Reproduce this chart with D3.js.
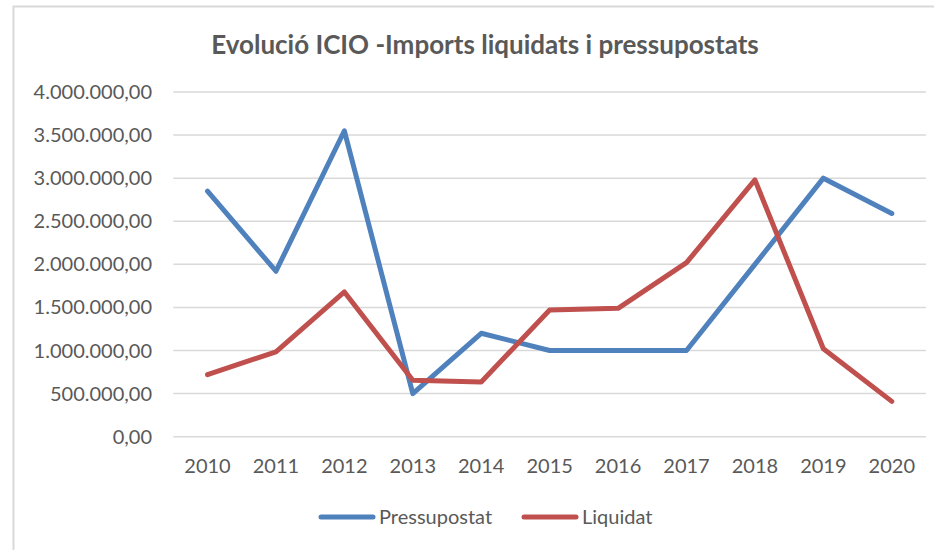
<!DOCTYPE html>
<html>
<head>
<meta charset="utf-8">
<script src="https://cdn.jsdelivr.net/npm/d3@7"></script>
<style>
  body { margin: 0; background: #fff; }
  svg { display: block; }
</style>
</head>
<body>
<svg width="934" height="550"></svg>
<script>
const years = ['2010', '2011', '2012', '2013', '2014', '2015', '2016', '2017', '2018', '2019', '2020'];
const pressupostat = [2850000, 1920000, 3550000, 500000, 1200000, 1000000, 1000000, 1000000, 2000000, 3000000, 2590000];
const liquidat = [720000, 985000, 1680000, 655000, 635000, 1470000, 1490000, 2020000, 2980000, 1020000, 410000];
const yTicks = [0, 500000, 1000000, 1500000, 2000000, 2500000, 3000000, 3500000, 4000000];

const blue = '#4f81bd';
const red = '#c0504d';
const textColor = '#595959';
const gridColor = '#d9d9d9';
const fontFamily = 'Lato, "Open Sans", sans-serif';

const series = [
	{ name: 'Pressupostat', values: pressupostat, color: blue },
	{ name: 'Liquidat', values: liquidat, color: red },
];

const svg = d3.select('svg');

// chart border (runs off right and bottom)
svg.append('rect')
	.attr('x', 13.5)
	.attr('y', 6.5)
	.attr('width', 1000)
	.attr('height', 600)
	.attr('fill', 'none')
	.attr('stroke', gridColor)
	.attr('stroke-width', 2);

const locale = d3.formatLocale({ decimal: ',', thousands: '.', grouping: [3], currency: ['', ''] });
const fmt = locale.format(',.2f');

const x = d3.scaleBand()
	.domain(years)
	.range([173.3, 926])
	.padding(0);

const y = d3.scaleLinear()
	.domain([0, 4000000])
	.range([436.7, 92]);

// gridlines
svg.append('g')
	.selectAll('line')
	.data(yTicks)
	.enter()
		.append('line')
		.attr('x1', 173.3)
		.attr('x2', 926)
		.attr('y1', d => y(d))
		.attr('y2', d => y(d))
		.attr('stroke', gridColor)
		.attr('stroke-width', 1.5);

// y labels
svg.append('g')
	.selectAll('text')
	.data(yTicks)
	.enter()
		.append('text')
		.attr('x', 152)
		.attr('y', d => y(d) + 7)
		.attr('text-anchor', 'end')
		.attr('font-family', fontFamily)
		.attr('font-size', 20)
		.attr('fill', textColor)
		.text(d => fmt(d));

// x labels
svg.append('g')
	.selectAll('text')
	.data(years)
	.enter()
		.append('text')
		.attr('x', d => x(d) + x.bandwidth() / 2)
		.attr('y', 473)
		.attr('text-anchor', 'middle')
		.attr('font-family', fontFamily)
		.attr('font-size', 20)
		.attr('fill', textColor)
		.text(d => d);

const line = d3.line()
	.x((d, i) => x(years[i]) + x.bandwidth() / 2)
	.y(d => y(d));

svg.append('g')
	.selectAll('path')
	.data(series)
	.enter()
		.append('path')
		.attr('d', d => line(d.values))
		.attr('fill', 'none')
		.attr('stroke', d => d.color)
		.attr('stroke-width', 5)
		.attr('stroke-linejoin', 'round')
		.attr('stroke-linecap', 'round');

// title
svg.append('text')
	.attr('x', 485)
	.attr('y', 54)
	.attr('text-anchor', 'middle')
	.attr('font-family', fontFamily)
	.attr('font-size', 26)
	.attr('font-weight', 'bold')
	.attr('fill', textColor)
	.text('Evolució ICIO -Imports liquidats i pressupostats');

// legend
const legendX = [321, 524];
const legend = svg.append('g')
	.selectAll('g')
	.data(series)
	.enter()
		.append('g')
		.attr('transform', (d, i) => `translate(${legendX[i]}, 517)`);

legend.append('line')
	.attr('x1', 0)
	.attr('x2', 52)
	.attr('stroke', d => d.color)
	.attr('stroke-width', 5)
	.attr('stroke-linecap', 'round');

legend.append('text')
	.attr('x', 58)
	.attr('y', 7)
	.attr('font-family', fontFamily)
	.attr('font-size', 20)
	.attr('fill', textColor)
	.text(d => d.name);
</script>
</body>
</html>
